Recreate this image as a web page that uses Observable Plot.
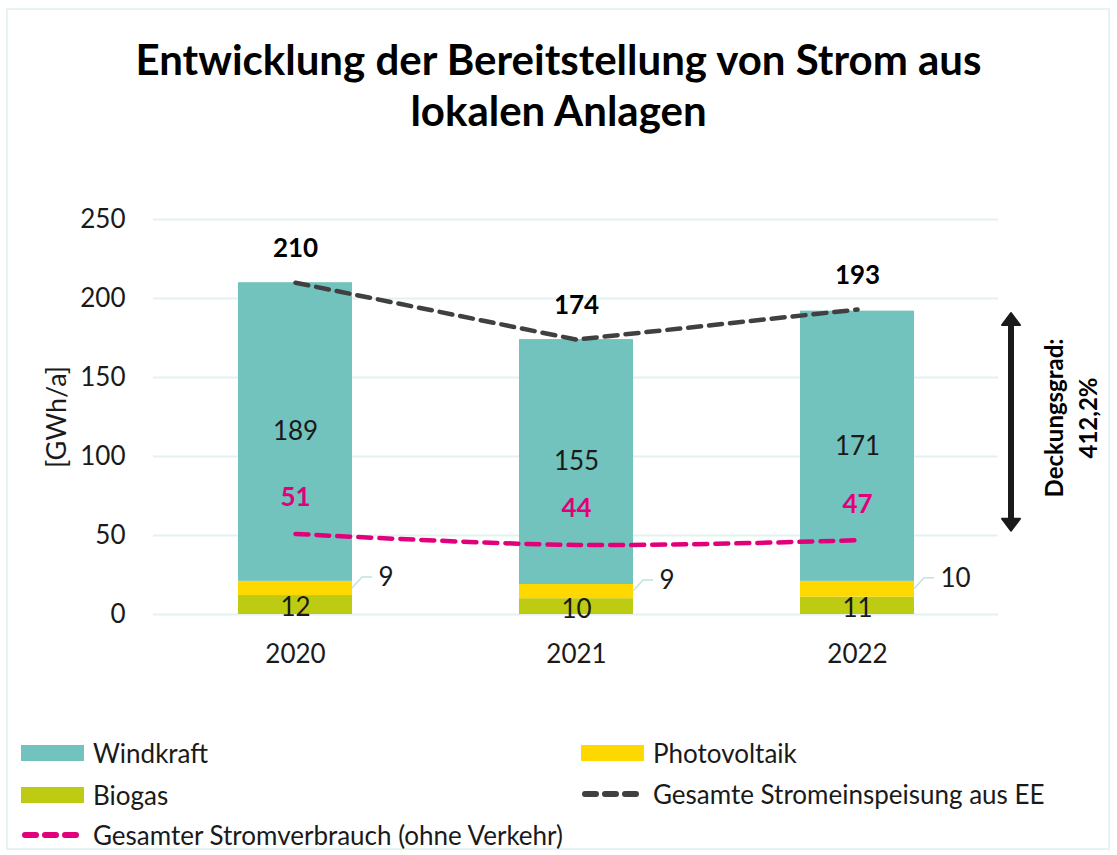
<!DOCTYPE html>
<html>
<head>
<meta charset="utf-8">
<script src="https://cdn.jsdelivr.net/npm/d3@7"></script>
<script src="https://cdn.jsdelivr.net/npm/@observablehq/plot@0.6"></script>
<style>
  html, body { margin: 0; padding: 0; background: #fff; }
  body { width: 1117px; height: 855px; position: relative; overflow: hidden; font-family: Lato, "Open Sans", sans-serif; color: #1a1a1a; }
  #frame { position: absolute; left: 6px; top: 8px; width: 1104px; height: 842px; border: 2px solid #E6F3F2; box-sizing: border-box; }
  #title { position: absolute; left: 0; top: 34px; width: 1117px; text-align: center; font-weight: 700; font-size: 42px; line-height: 51px; color: #000; }
  #chart { position: absolute; left: 0; top: 170px; }
  .leg { position: absolute; display: flex; align-items: center; font-size: 26px; color: #1a1a1a; white-space: nowrap; height: 30px; }
  .leg svg { margin-right: 9px; }
</style>
</head>
<body>
<div id="frame"></div>
<div id="title">Entwicklung der Bereitstellung von Strom aus<br>lokalen Anlagen</div>
<div id="chart"></div>
<div id="legend"></div>
<script>
// ---- data ----
const years = ["2020", "2021", "2022"];
const biogas = [12, 10, 11];
const photovoltaik = [9, 9, 10];
const windkraft = [189, 155, 171];
const gesamtEE = [210, 174, 193];
const verbrauch = [51, 44, 47];
const yTicks = [0, 50, 100, 150, 200, 250];
const sources = ["Biogas", "Photovoltaik", "Windkraft"];
const sourceColors = ["#BDCB12", "#FFD800", "#72C2BD"];
const deckungsgradLabel = "Deckungsgrad:\n412,2%";
const yLabel = "[GWh/a]";
const legendItems = [
  {label: "Windkraft", type: "rect", color: "#72C2BD", left: 21, top: 738},
  {label: "Photovoltaik", type: "rect", color: "#FFD800", left: 581, top: 738},
  {label: "Biogas", type: "rect", color: "#BDCB12", left: 21, top: 780},
  {label: "Gesamte Stromeinspeisung aus EE", type: "dash", color: "#404040", left: 581, top: 779},
  {label: "Gesamter Stromverbrauch (ohne Verkehr)", type: "dash", color: "#E2007A", left: 21, top: 820}
];

// ---- derived tables ----
const seriesValues = {Biogas: biogas, Photovoltaik: photovoltaik, Windkraft: windkraft};
const stacked = years.flatMap((year, i) => sources.map(s => ({year, source: s, value: seriesValues[s][i]})));
const rows = years.map((year, i) => ({
  year,
  biogas: biogas[i],
  pv: photovoltaik[i],
  wind: windkraft[i],
  total: gesamtEE[i],
  cons: verbrauch[i],
  biogasMid: biogas[i] / 2,
  pvMid: biogas[i] + photovoltaik[i] / 2,
  windMid: biogas[i] + photovoltaik[i] + windkraft[i] / 2
}));

const pink = "#E2007A";
const gray = "#404040";
const leaderColor = "#BFE3E0";

// leader lines for PV labels (computed through scales)
function leaders(index, scales, values, dims) {
  const g = d3.create("svg:g");
  const sx = scales.x, sy = scales.y;
  const bw = typeof sx.bandwidth === "function" ? sx.bandwidth() : 114;
  for (const r of rows) {
    const x0 = sx(r.year) + bw;
    const y0 = sy(r.pvMid);
    g.append("path")
      .attr("d", `M${x0},${y0}L${x0 + 10},${y0 - 11}L${x0 + 20},${y0 - 11}`)
      .attr("fill", "none")
      .attr("stroke", leaderColor)
      .attr("stroke-width", 1.5);
  }
  return g.node();
}

// double arrow on the right (total vs consumption of last year)
function doubleArrow(index, scales, values, dims) {
  const g = d3.create("svg:g");
  const sy = scales.y;
  const last = rows[rows.length - 1];
  const x = dims.width - dims.marginRight + 13;
  const yTop = sy(last.total) + 4;
  const yBot = sy(last.cons) - 9;
  const hh = 12, hw = 9;
  g.append("line").attr("x1", x).attr("x2", x).attr("y1", yTop + hh - 2).attr("y2", yBot - hh + 2)
    .attr("stroke", "#1a1a1a").attr("stroke-width", 6);
  g.append("path").attr("d", `M${x},${yTop}L${x + hw},${yTop + hh}L${x - hw},${yTop + hh}Z`)
    .attr("fill", "#1a1a1a").attr("stroke", "#1a1a1a").attr("stroke-linejoin", "round").attr("stroke-width", 2);
  g.append("path").attr("d", `M${x},${yBot}L${x + hw},${yBot - hh}L${x - hw},${yBot - hh}Z`)
    .attr("fill", "#1a1a1a").attr("stroke", "#1a1a1a").attr("stroke-linejoin", "round").attr("stroke-width", 2);
  return g.node();
}

const chart = Plot.plot({
  width: 1117,
  height: 530,
  marginLeft: 153,
  marginRight: 119,
  marginTop: 49,
  marginBottom: 86,
  style: {fontFamily: "Lato, 'Open Sans', sans-serif", fontSize: "26px", color: "#1a1a1a", background: "transparent", overflow: "visible"},
  x: {domain: years, paddingInner: 0.595, paddingOuter: 0.2975, axis: null},
  y: {domain: [0, 250], axis: null},
  color: {domain: sources, range: sourceColors},
  marks: [
    Plot.gridY(yTicks, {stroke: "#E3F1F1", strokeOpacity: 1, strokeWidth: 2}),
    Plot.axisY(yTicks, {tickSize: 0, tickPadding: 28, fontSize: 26, label: null}),
    Plot.axisX(years, {tickSize: 0, tickPadding: 30, fontSize: 26, label: null}),
    Plot.text([yLabel], {frameAnchor: "left", textAnchor: "middle", rotate: -90, dx: -96, fontSize: 27}),
    Plot.barY(stacked, {x: "year", y: "value", fill: "source", order: sources}),
    leaders,
    Plot.line(rows, {x: "year", y: "total", stroke: gray, strokeWidth: 4.5, strokeDasharray: "13,8", strokeLinecap: "round"}),
    Plot.line(rows, {x: "year", y: "cons", stroke: pink, strokeWidth: 4.5, strokeDasharray: "13,8", strokeLinecap: "round", curve: "catmull-rom"}),
    Plot.text(rows, {x: "year", y: "windMid", text: d => d.wind, fontSize: 26, fill: "#1a1a1a"}),
    Plot.text(rows, {x: "year", y: "biogasMid", text: d => d.biogas, fontSize: 26, fill: "#1a1a1a", dy: 3}),
    Plot.text(rows, {x: "year", y: "pvMid", text: d => d.pv, fontSize: 26, fill: "#1a1a1a", textAnchor: "start", dx: 83, dy: -11}),
    Plot.text(rows, {x: "year", y: "total", text: d => d.total, fontSize: 26, fontWeight: "bold", fill: "#000", dy: -34}),
    Plot.text(rows, {x: "year", y: "cons", text: d => d.cons, fontSize: 26, fontWeight: "bold", fill: pink, dy: -36}),
    doubleArrow,
    Plot.text([deckungsgradLabel], {frameAnchor: "right", textAnchor: "middle", rotate: -90, dx: 71, dy: 1, fontSize: 24, fontWeight: "bold", lineHeight: 1.4, fill: "#000"})
  ]
});
document.getElementById("chart").appendChild(chart);

// ---- legend ----
const legend = d3.select("#legend");
for (const item of legendItems) {
  const div = legend.append("div").attr("class", "leg").style("left", item.left + "px").style("top", item.top + "px");
  const sw = div.append("svg").attr("width", 63).attr("height", 20);
  if (item.type === "rect") {
    sw.append("rect").attr("x", 0).attr("y", 2).attr("width", 63).attr("height", 16).attr("fill", item.color);
  } else {
    sw.append("line").attr("x1", 4).attr("x2", 60).attr("y1", 10).attr("y2", 10)
      .attr("stroke", item.color).attr("stroke-width", 6).attr("stroke-linecap", "round").attr("stroke-dasharray", "11,9");
  }
  div.append("span").text(item.label);
}
</script>
</body>
</html>
